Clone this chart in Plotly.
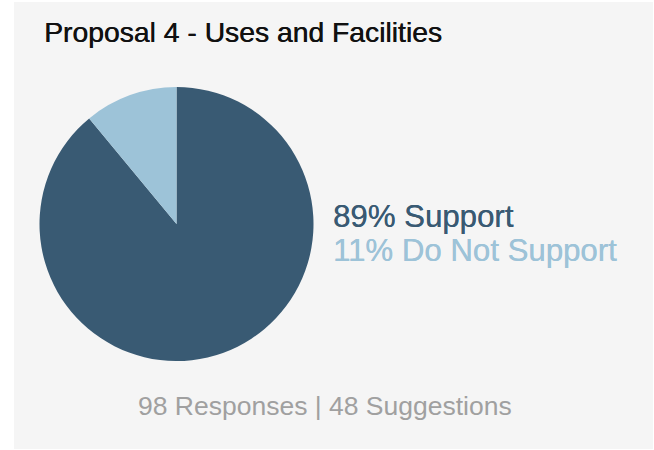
import plotly.graph_objects as go

labels = ["Support", "Do Not Support"]
values = [89, 11]
colors = ["#395a73", "#9dc3d8"]
title_text = "Proposal 4 - Uses and Facilities"
responses = 98
suggestions = 48

W, H = 654, 450

def px(x):
    return x / W

def py(y):
    return 1 - y / H

fig = go.Figure()

# soft shadow under the pie
cx, cy, r = 176.5, 224, 137
for off, op in [(3.0, 0.04), (2.0, 0.06), (1.0, 0.08)]:
    fig.add_shape(type="circle", xref="paper", yref="paper",
                  x0=px(cx - r + off * 0.5), x1=px(cx + r + off),
                  y0=py(cy + r + off), y1=py(cy - r + off * 0.5),
                  fillcolor=f"rgba(0,0,0,{op})", line=dict(width=0), layer="below")

fig.add_trace(go.Pie(
    labels=labels, values=values,
    marker=dict(colors=colors, line=dict(width=0)),
    sort=False, direction="clockwise", rotation=0,
    textinfo="none", hoverinfo="label+percent",
    showlegend=False,
    domain=dict(x=[px(cx - r), px(cx + r)], y=[py(cy + r), py(cy - r)]),
))

# card background
fig.add_shape(type="rect", xref="paper", yref="paper",
              x0=px(14), x1=px(653), y0=py(449), y1=py(2),
              fillcolor="#f5f5f5", line=dict(width=0), layer="below")

font = "Liberation Sans, Arial, Helvetica, sans-serif"

fig.add_annotation(text=title_text, xref="paper", yref="paper",
                   x=px(42), y=py(32), xanchor="left", yanchor="middle",
                   showarrow=False,
                   font=dict(family=font, size=28.3, color="#111111",
                             shadow="0.45px 0px 0px #111111"))

line_y = [216, 250]
for lab, val, col, yy in zip(labels, values, colors, line_y):
    fig.add_annotation(text=f"{val}% {lab}", xref="paper", yref="paper",
                       x=px(331), y=py(yy), xanchor="left", yanchor="middle",
                       showarrow=False,
                       font=dict(family=font, size=31.2, color=col,
                                 shadow=f"0.25px 0px 0px {col}"))

fig.add_annotation(text=f"{responses} Responses | {suggestions} Suggestions",
                   xref="paper", yref="paper", x=px(325), y=py(406),
                   xanchor="center", yanchor="middle", showarrow=False,
                   font=dict(family=font, size=26.5, color="#a0a0a0"))

fig.update_layout(width=W, height=H, margin=dict(l=0, r=0, t=0, b=0),
                  paper_bgcolor="white", plot_bgcolor="white")

fig.write_html(
    "out.html",
    config={"displayModeBar": False},
    post_script="document.body.style.margin='0';document.body.style.overflow='hidden';",
)
